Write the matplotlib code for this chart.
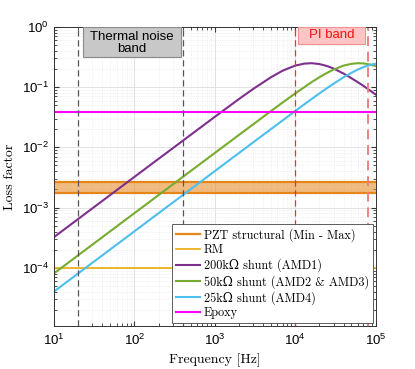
import numpy as np
import matplotlib
matplotlib.use('Agg')
import matplotlib.pyplot as plt
from matplotlib.patches import Rectangle
from matplotlib.transforms import blended_transform_factory

plt.rcParams['mathtext.fontset'] = 'custom'
plt.rcParams['mathtext.rm'] = 'Liberation Sans'
plt.rcParams['mathtext.it'] = 'Liberation Sans:italic'
plt.rcParams['font.family'] = ['Liberation Sans', 'DejaVu Sans']

serif = ['cmr10', 'DejaVu Serif']

# data
freq = [10, 100, 1000, 2000, 3000, 5000, 7000, 10000, 13000, 16000, 20000,
        25000, 30000, 40000, 50000, 60000, 70000, 80000, 90000, 100000]
shunt_200k = [3.23e-4, 3.23e-3, 0.0321, 0.0635, 0.0933, 0.146, 0.188, 0.228, 0.246,
              0.250, 0.242, 0.224, 0.204, 0.168, 0.141, 0.121, 0.106, 0.0934, 0.0836, 0.0757]
shunt_50k = [8.07e-5, 8.07e-4, 0.00806, 0.0161, 0.0241, 0.0401, 0.0557, 0.0786, 0.100,
             0.121, 0.146, 0.173, 0.196, 0.228, 0.244, 0.250, 0.248, 0.242, 0.234, 0.224]
shunt_25k = [4.03e-5, 4.03e-4, 0.00403, 0.00806, 0.0121, 0.0201, 0.0281, 0.0401, 0.0519,
             0.0635, 0.0786, 0.0969, 0.114, 0.146, 0.173, 0.196, 0.214, 0.228, 0.238, 0.244]
pzt_min = 1.75e-3
pzt_max = 2.7e-3
rm_loss = 1.0e-4
epoxy_loss = 0.039
thermal_band = [20, 400]
pi_band = [1e4, 8e4]

fig = plt.figure(figsize=(4.15, 3.69), dpi=100)
ax = fig.add_axes([0.130, 0.1165, 0.775, 0.8105])

orange = '#E5851A'
xr = [10, 1e5]
ax.fill_between(xr, [pzt_min] * 2, [pzt_max] * 2, color=orange, alpha=0.55, lw=0)
ax.plot(xr, [pzt_max] * 2, color=orange, lw=1.6, label='PZT structural (Min - Max)')
ax.plot(xr, [pzt_min] * 2, color=orange, lw=1.6)
ax.plot(xr, [rm_loss] * 2, color='#EDB120', lw=1.3, label='RM')
ax.plot(freq, shunt_200k, color='#7E2F8E', lw=1.5, label='200k\u03a9 shunt (AMD1)')
ax.plot(freq, shunt_50k, color='#77AC30', lw=1.5, label='50k\u03a9 shunt (AMD2 & AMD3)')
ax.plot(freq, shunt_25k, color='#4DBEEE', lw=1.5, label='25k\u03a9 shunt (AMD4)')
ax.plot(xr, [epoxy_loss] * 2, color='#FF00FF', lw=1.5, label='Epoxy')

# bands
for f in thermal_band:
    ax.axvline(f, color='#555555', ls='--', lw=0.9, dashes=(5, 3))
ax.axvline(pi_band[0], color='#E8322E', ls='--', lw=0.9, dashes=(5, 3))
ax.axvline(pi_band[1], color='#F08080', ls='--', lw=1.4, dashes=(5, 3))

trans = blended_transform_factory(ax.transData, ax.transAxes)
ax.add_patch(Rectangle((22.7, 0.9), 378 - 22.7, 0.1, transform=trans,
                       fc='#C8C8C8', ec='#8A8A8A', lw=0.8, zorder=4))
ax.text(np.sqrt(22.7 * 378), 0.985, 'Thermal noise\nband', transform=trans,
        ha='center', va='top', fontsize=9.5, linespacing=0.95, zorder=5)
ax.add_patch(Rectangle((11000, 0.943), 74500 - 11000, 0.057, transform=trans,
                       fc='#FFC4C4', ec='#F09090', lw=0.8, zorder=4))
ax.text(np.sqrt(11000 * 74500), 0.972, 'PI band', transform=trans, ha='center',
        va='center', fontsize=9.5, color='#F01010', zorder=5)

ax.set_xscale('log')
ax.set_yscale('log')
ax.set_xlim(10, 1e5)
ax.set_ylim(1.08e-5, 1)
ax.set_xlabel('Frequency [Hz]', family=serif, fontsize=10)
ax.set_ylabel('Loss factor', family=serif, fontsize=10)
ax.tick_params(which='both', direction='in', top=True, right=True, labelsize=9.5, color='#333333')
ax.tick_params(axis='x', which='major', pad=5)
ax.grid(True, which='major', color='#DDDDDD', lw=0.6)
ax.grid(True, which='minor', color='#E6E6E6', lw=0.5, ls=':')
ax.set_axisbelow(True)
for s in ax.spines.values():
    s.set_color('#333333')
    s.set_linewidth(0.7)

leg = ax.legend(loc='lower right', prop={'family': serif, 'size': 8.8}, fancybox=False,
                framealpha=1, edgecolor='#444444', borderpad=0.3, labelspacing=0.2,
                handlelength=2.0, handletextpad=0.3, borderaxespad=0.25)
leg.get_frame().set_linewidth(0.6)

fig.savefig('out.png', dpi=100)
